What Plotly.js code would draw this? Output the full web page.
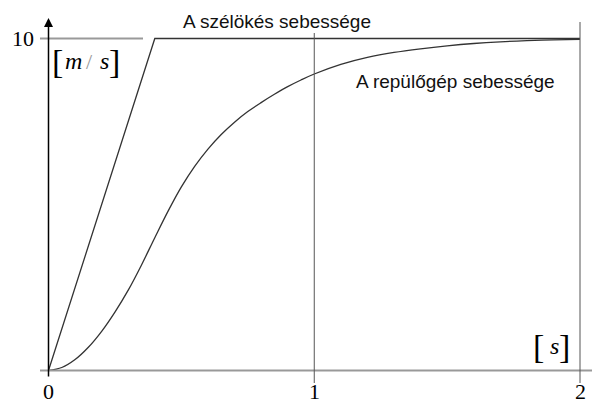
<!DOCTYPE html>
<html>
<head>
<meta charset="utf-8">
<script src="https://cdn.plot.ly/plotly-3.0.1.min.js"></script>
<style>
  html, body { margin: 0; padding: 0; background: #fff; }
  #chart { width: 592px; height: 403px; }
</style>
</head>
<body>
<div id="chart"></div>
<script>
// Wind gust speed: linear ramp up to 10 m/s, then constant
const gustTime  = [0, 0.4, 2];
const gustSpeed = [0, 10, 10];

// Aircraft speed: smooth S-shaped response approaching 10 m/s
const planeTime  = [0, 0.05, 0.1, 0.15, 0.2, 0.25, 0.3, 0.35, 0.4, 0.45, 0.5, 0.55, 0.6, 0.65, 0.7, 0.75, 0.8, 0.85, 0.9, 0.95, 1.0,
                    1.1, 1.2, 1.3, 1.4, 1.5, 1.6, 1.7, 1.8, 1.9, 2.0];
const planeSpeed = [0, 0.09, 0.33, 0.7, 1.18, 1.76, 2.42, 3.18, 4.0, 4.8, 5.53, 6.15, 6.67, 7.11, 7.48, 7.8, 8.07, 8.32, 8.55, 8.75, 8.93,
                    9.22, 9.43, 9.58, 9.69, 9.78, 9.85, 9.9, 9.935, 9.96, 9.975];

// Tick labels
const xTickVals = [0, 1, 2];
const xTickText = ['0', '1', '2'];
const yTickVals = [10];
const yTickText = ['10'];

// Curve captions
const gustLabel  = 'A szélökés sebessége';
const planeLabel = 'A repülőgép sebessége';

// pixel helpers for the full-canvas axes (origin at 48.5, 370.5)
const X0 = 48.5, XS = 265.75, Y0 = 370.5, YS = 33.2;
const dx = px => (px - X0) / XS;
const dy = py => (Y0 - py) / YS;

const lineColor = '#333';
const serif = 'Liberation Serif, Times New Roman, serif';
const sans = 'Liberation Sans, Arial, sans-serif';

const traces = [
  { x: gustTime, y: gustSpeed, mode: 'lines', line: { color: lineColor, width: 1.3 }, hoverinfo: 'skip' },
  { x: planeTime, y: planeSpeed, mode: 'lines', line: { color: lineColor, width: 1.3, shape: 'spline', smoothing: 1 }, hoverinfo: 'skip' }
];

const shapes = [
  // x axis (gray)
  { type: 'line', xref: 'x', yref: 'y', x0: dx(40), x1: dx(592), y0: 0, y1: 0, line: { color: '#999', width: 2 } },
  // reference line at 10 next to the y axis
  { type: 'line', xref: 'x', yref: 'y', x0: dx(40), x1: dx(143), y0: 10, y1: 10, line: { color: '#999', width: 2 } },
  // vertical guides at t = 1 and t = 2
  { type: 'line', xref: 'x', yref: 'y', x0: 1, x1: 1, y0: dy(383), y1: dy(33), line: { color: '#555', width: 1 } },
  { type: 'line', xref: 'x', yref: 'y', x0: 2, x1: 2, y0: dy(383), y1: dy(22), line: { color: '#555', width: 1 } }
];

const annotations = [];
// y axis with arrow
annotations.push({ x: 0, y: dy(18), ax: 0, ay: dy(378), xref: 'x', yref: 'y', axref: 'x', ayref: 'y',
  text: '', showarrow: true, arrowhead: 2, arrowsize: 1.2, arrowwidth: 1.5, arrowcolor: '#000' });

xTickVals.forEach((v, i) => annotations.push({ x: v, y: dy(391), xref: 'x', yref: 'y', text: xTickText[i],
  showarrow: false, xanchor: 'center', yanchor: 'middle', font: { family: serif, size: 22, color: '#000' } }));
yTickVals.forEach((v, i) => annotations.push({ x: dx(22.5), y: v, xref: 'x', yref: 'y', text: yTickText[i],
  showarrow: false, xanchor: 'center', yanchor: 'middle', font: { family: serif, size: 22, color: '#000' } }));

// unit labels
function unitPart(px, py, txt, size, color) {
  annotations.push({ x: dx(px), y: dy(py), xref: 'x', yref: 'y', text: txt, showarrow: false,
    xanchor: 'center', yanchor: 'middle', font: { family: serif, size: size, color: color || '#000' } });
}
unitPart(57, 61, '[', 34);
unitPart(73, 61, '<i>m</i>', 24);
unitPart(89, 61, '/', 22, '#999');
unitPart(104, 61, '<i>s</i>', 24);
unitPart(114.5, 61, ']', 34);
unitPart(538.5, 346, '[', 34);
unitPart(554, 346, '<i>s</i>', 24);
unitPart(564.5, 346, ']', 34);

annotations.push({ x: dx(181), y: dy(21), xref: 'x', yref: 'y', text: gustLabel, showarrow: false,
  xanchor: 'left', yanchor: 'middle', font: { family: sans, size: 19, color: '#111' } });
annotations.push({ x: dx(354), y: dy(81), xref: 'x', yref: 'y', text: planeLabel, showarrow: false,
  xanchor: 'left', yanchor: 'middle', font: { family: sans, size: 19, color: '#111' } });

const hiddenAxis = { showgrid: false, zeroline: false, showticklabels: false, showline: false, ticks: '', fixedrange: true };

const layout = {
  width: 592, height: 403,
  margin: { l: 0, r: 0, t: 0, b: 0 },
  paper_bgcolor: '#fff', plot_bgcolor: '#fff',
  showlegend: false,
  xaxis: Object.assign({ range: [dx(0), dx(592)] }, hiddenAxis),
  yaxis: Object.assign({ range: [dy(403), dy(0)] }, hiddenAxis),
  shapes: shapes,
  annotations: annotations
};

Plotly.newPlot('chart', traces, layout, { displayModeBar: false, staticPlot: true });
</script>
</body>
</html>
